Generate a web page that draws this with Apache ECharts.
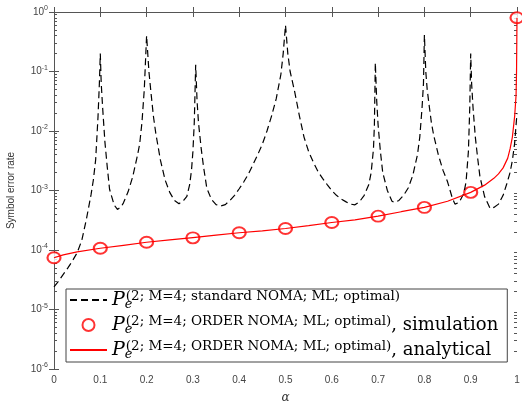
<!DOCTYPE html>
<html>
<head>
<meta charset="utf-8">
<script src="https://cdn.jsdelivr.net/npm/echarts@6/dist/echarts.min.js"></script>
<style>
html, body { margin: 0; padding: 0; background: #fff; }
#main { width: 522px; height: 401px; }
</style>
</head>
<body>
<div id="main"></div>
<script>
var dom = document.getElementById("main");
var myChart = echarts.init(dom);

// standard NOMA (dashed black)
var alphaStd = [
    0, 0.01, 0.02, 0.03, 0.04, 0.05, 0.06, 0.07, 0.08, 0.085, 0.09, 0.095, 0.098, 0.1,
    0.102, 0.105, 0.11, 0.115, 0.12, 0.13, 0.137, 0.145, 0.15, 0.16, 0.17, 0.18, 0.185, 0.19, 0.195, 0.2,
    0.205, 0.21, 0.215, 0.22, 0.23, 0.24, 0.25, 0.26, 0.27, 0.28, 0.287, 0.293, 0.297, 0.3, 0.303, 0.306,
    0.309, 0.312, 0.318, 0.323, 0.33, 0.34, 0.35, 0.36, 0.37, 0.38, 0.39, 0.4, 0.41, 0.42, 0.43, 0.44,
    0.45, 0.46, 0.47, 0.48, 0.49, 0.495, 0.5,
    0.505, 0.51, 0.52, 0.53, 0.54, 0.55, 0.56, 0.57, 0.58, 0.59, 0.6, 0.61, 0.62, 0.63, 0.64, 0.65,
    0.66, 0.67, 0.68, 0.685, 0.69, 0.692, 0.694,
    0.697, 0.7, 0.705, 0.71, 0.72, 0.73, 0.735, 0.745, 0.755, 0.765, 0.775, 0.785, 0.79, 0.795, 0.798, 0.8,
    0.803, 0.806, 0.81, 0.815, 0.82, 0.83, 0.84, 0.85, 0.86, 0.866, 0.875, 0.885, 0.89, 0.895, 0.898, 0.9,
    0.902, 0.905, 0.91, 0.915, 0.92, 0.93, 0.942, 0.95, 0.96, 0.97, 0.978, 0.985, 0.99, 0.995, 1
];
var pStd = [
    2.4e-5, 3.0e-5, 3.9e-5, 5.0e-5, 6.6e-5, 9.0e-5, 1.45e-4, 3.3e-4, 8.5e-4, 1.5e-3, 3.3e-3, 1.7e-2, 6.3e-2, 0.2,
    6.3e-2, 2.5e-2, 6.5e-3, 2.5e-3, 1.05e-3, 5.7e-4, 4.8e-4, 5.3e-4, 6.2e-4, 9.5e-4, 1.7e-3, 3.8e-3, 6.0e-3, 1.4e-2, 5.0e-2, 0.4,
    0.1, 4.0e-2, 1.7e-2, 9.0e-3, 3.2e-3, 1.5e-3, 9.3e-4, 6.8e-4, 6.0e-4, 6.8e-4, 8.0e-4, 1.26e-3, 2.2e-3, 4.5e-3, 1.4e-2, 0.13,
    3.2e-2, 1.4e-2, 5.0e-3, 2.5e-3, 1.1e-3, 7.1e-4, 5.8e-4, 5.5e-4, 5.8e-4, 6.8e-4, 8.3e-4, 1.07e-3, 1.4e-3, 1.9e-3, 2.75e-3, 4.0e-3,
    6.0e-3, 1.0e-2, 1.8e-2, 3.5e-2, 8.9e-2, 0.2, 0.6,
    0.2, 0.1, 4.5e-2, 1.8e-2, 7.9e-3, 4.5e-3, 3.0e-3, 2.1e-3, 1.6e-3, 1.26e-3, 1.0e-3, 8.3e-4, 7.2e-4, 6.5e-4, 5.9e-4, 5.75e-4,
    6.5e-4, 8.3e-4, 1.26e-3, 2.0e-3, 5.0e-3, 1.26e-2, 0.14,
    3.2e-2, 1.26e-2, 4.5e-3, 2.0e-3, 1.0e-3, 6.6e-4, 6.3e-4, 6.8e-4, 8.3e-4, 1.1e-3, 1.8e-3, 4.0e-3, 7.9e-3, 2.5e-2, 6.3e-2, 0.41,
    0.1, 5.0e-2, 2.8e-2, 1.4e-2, 8.5e-3, 4.0e-3, 2.2e-3, 1.4e-3, 7.6e-4, 5.9e-4, 6.3e-4, 8.9e-4, 1.4e-3, 4.5e-3, 2.5e-2, 0.2,
    6.3e-2, 2.5e-2, 7.9e-3, 3.5e-3, 1.7e-3, 7.9e-4, 5.0e-4, 5.2e-4, 5.9e-4, 8.3e-4, 1.3e-3, 2.0e-3, 3.2e-3, 6.3e-3, 2.0e-2
];

// ORDER NOMA analytical (red line)
var alphaAna = [0, 0.02, 0.05, 0.1, 0.15, 0.2, 0.25, 0.3, 0.35, 0.4, 0.45, 0.5, 0.55, 0.6, 0.65, 0.7,
    0.75, 0.8, 0.85, 0.9, 0.93, 0.95, 0.96, 0.97, 0.98, 0.985, 0.99, 0.995, 0.998, 0.999, 1];
var pAna = [7.4e-5, 8.3e-5, 9.3e-5, 1.07e-4, 1.2e-4, 1.35e-4, 1.48e-4, 1.62e-4, 1.78e-4, 1.95e-4, 2.1e-4, 2.3e-4, 2.57e-4, 2.9e-4, 3.2e-4, 3.7e-4,
    4.4e-4, 5.2e-4, 6.6e-4, 9.3e-4, 1.23e-3, 1.6e-3, 1.9e-3, 2.4e-3, 3.5e-3, 5.0e-3, 7.9e-3, 1.8e-2, 4.0e-2, 0.1, 0.8];

// ORDER NOMA simulation (red circles)
var alphaSim = [0, 0.1, 0.2, 0.3, 0.4, 0.5, 0.6, 0.7, 0.8, 0.9, 1];
var pSim = [7.4e-5, 1.07e-4, 1.35e-4, 1.6e-4, 1.95e-4, 2.3e-4, 2.9e-4, 3.7e-4, 5.2e-4, 9.3e-4, 0.8];

// log-spaced minor ticks (in decades, for the helper axis)
var minorY = [];
for (var d = -6; d < 0; d++) {
    for (var k = 2; k <= 9; k++) {
        minorY.push(d + Math.log(k) / Math.LN10);
    }
}

function pairs(xs, ys) {
    return xs.map(function (x, i) { return [x, ys[i]]; });
}

var legendText = {
    std: '{P|P}{e|e}{sup|(2; M=4; standard NOMA; ML; optimal)}',
    sim: '{P|P}{e|e}{sup|(2; M=4; ORDER NOMA; ML; optimal)}{tail|, simulation}',
    ana: '{P|P}{e|e}{sup|(2; M=4; ORDER NOMA; ML; optimal)}{tail|, analytical}'
};

var axisColor = '#555';
var labelColor = '#444';
var noDot = { color: 'transparent', borderWidth: 0, opacity: 0 };

option = {
    animation: false,
    backgroundColor: '#fff',
    grid: { left: 54, right: 5, top: 12, bottom: 32, outerBoundsMode: 'none' },
    legend: {
        orient: 'vertical',
        left: 66,
        top: 289,
        padding: [0, 9, 1, 3],
        itemGap: 3,
        itemWidth: 37,
        itemHeight: 12,
        borderColor: '#444',
        borderWidth: 1,
        backgroundColor: '#fff',
        selectedMode: false,
        data: [
            { name: 'std', itemStyle: noDot },
            { name: 'sim' },
            { name: 'ana', itemStyle: noDot }
        ],
        formatter: function (name) { return legendText[name]; },
        textStyle: {
            rich: {
                P: { fontFamily: 'DejaVu Serif', fontStyle: 'italic', fontSize: 19, lineHeight: 22, color: '#000' },
                e: { fontFamily: 'DejaVu Serif', fontStyle: 'italic', fontSize: 13, lineHeight: 11, width: 1, verticalAlign: 'bottom', color: '#000' },
                sup: { fontFamily: 'DejaVu Serif', fontSize: 13.5, lineHeight: 13, verticalAlign: 'top', color: '#000' },
                tail: { fontFamily: 'DejaVu Serif', fontSize: 18, lineHeight: 22, color: '#000' }
            }
        }
    },
    xAxis: [{
        type: 'value', min: 0, max: 1, interval: 0.1,
        name: 'α', nameLocation: 'middle', nameGap: 23,
        nameTextStyle: { fontFamily: 'DejaVu Serif', fontStyle: 'italic', fontSize: 12, color: '#333' },
        axisLine: { lineStyle: { color: axisColor } },
        axisTick: { inside: true, length: 5, lineStyle: { color: axisColor } },
        axisLabel: { margin: 6, fontFamily: 'Liberation Sans', fontSize: 10, color: labelColor },
        splitLine: { show: false }
    }, {
        type: 'value', min: 0, max: 1, interval: 0.1, position: 'top',
        axisLine: { lineStyle: { color: axisColor } },
        axisTick: { inside: true, length: 5, lineStyle: { color: axisColor } },
        axisLabel: { show: false },
        splitLine: { show: false }
    }],
    yAxis: [{
        type: 'log', logBase: 10, min: 1e-6, max: 1, position: 'left',
        name: 'Symbol error rate', nameLocation: 'middle', nameGap: 38,
        nameTextStyle: { fontFamily: 'Liberation Sans', fontSize: 10, color: '#333' },
        axisLine: { show: true, lineStyle: { color: axisColor } },
        axisTick: { inside: true, length: 5, lineStyle: { color: axisColor } },
        axisLabel: {
            margin: 6, color: labelColor,
            formatter: function (v) {
                var ex = Math.round(Math.log(v) / Math.LN10);
                return '{b|10}{s|' + ex + '}';
            },
            rich: {
                b: { fontFamily: 'Liberation Sans', fontSize: 10, lineHeight: 14, color: labelColor },
                s: { fontFamily: 'Liberation Sans', fontSize: 7, lineHeight: 8, verticalAlign: 'top', color: labelColor }
            }
        },
        splitLine: { show: false }
    }, {
        type: 'log', logBase: 10, min: 1e-6, max: 1, position: 'right',
        axisLine: { show: true, lineStyle: { color: axisColor } },
        axisTick: { inside: true, length: 5, lineStyle: { color: axisColor } },
        axisLabel: { show: false },
        splitLine: { show: false }
    }, {
        type: 'value', min: -6, max: 0, position: 'left',
        axisLine: { show: false },
        axisTick: { inside: true, length: 3, customValues: minorY, lineStyle: { color: axisColor } },
        axisLabel: { show: false },
        splitLine: { show: false }
    }, {
        type: 'value', min: -6, max: 0, position: 'right',
        axisLine: { show: false },
        axisTick: { inside: true, length: 3, customValues: minorY, lineStyle: { color: axisColor } },
        axisLabel: { show: false },
        splitLine: { show: false }
    }],
    series: [{
        name: 'std',
        type: 'line',
        symbol: 'none',
        data: pairs(alphaStd, pStd),
        lineStyle: { color: '#000', width: 1.2, type: [7, 4] },
        itemStyle: { color: '#000' }
    }, {
        name: 'ana',
        type: 'line',
        symbol: 'none',
        data: pairs(alphaAna, pAna),
        lineStyle: { color: '#ff0000', width: 1.2 },
        itemStyle: { color: '#ff0000' }
    }, {
        name: 'sim',
        type: 'scatter',
        symbol: 'emptyCircle',
        symbolSize: [13, 11],
        clip: false,
        data: pairs(alphaSim, pSim),
        itemStyle: { color: '#ff0000', borderColor: '#ff0000', borderWidth: 1.2 }
    }]
};

if (option && typeof option === "object") {
    myChart.setOption(option, true);
}
</script>
</body>
</html>
